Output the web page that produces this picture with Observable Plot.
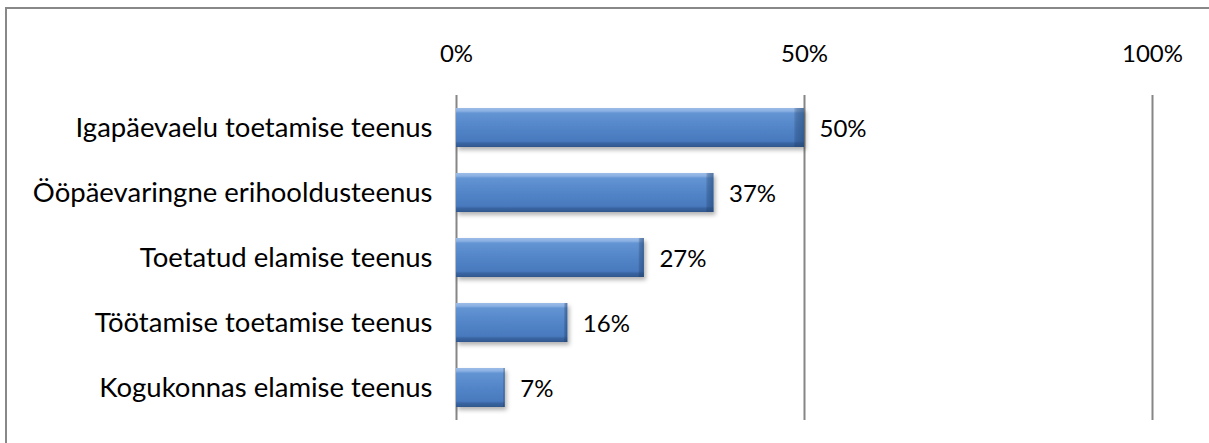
<!DOCTYPE html>
<html>
<head>
<meta charset="utf-8">
<script src="https://cdn.jsdelivr.net/npm/d3@7"></script>
<script src="https://cdn.jsdelivr.net/npm/@observablehq/plot@0.6"></script>
<style>
  html, body { margin: 0; padding: 0; background: #fff; }
  #wrap { position: relative; width: 1209px; height: 443px; overflow: hidden; }
  #frame { position: absolute; left: 5px; top: 7px; width: 1300px; height: 600px; border: 2.5px solid #888; box-sizing: border-box; }
  #chart { position: absolute; left: 0; top: 0; }
  #chart svg text { font-size: 24px; fill: #000; }
  #chart svg g.ycat text { font-size: 27.5px; }
</style>
</head>
<body>
<div id="wrap"><div id="frame"></div><div id="chart"></div></div>
<script>
const categories = [
  "Igapäevaelu toetamise teenus",
  "Ööpäevaringne erihooldusteenus",
  "Toetatud elamise teenus",
  "Töötamise toetamise teenus",
  "Kogukonnas elamise teenus"
];
const values = [50, 37, 27, 16, 7];
const tickValues = [0, 50, 100];

const data = categories.map((c, i) => ({category: c, value: values[i]}));
const font = "Lato, 'Open Sans', sans-serif";

const svg = Plot.plot({
  width: 1209,
  height: 443,
  marginTop: 95,
  marginBottom: 23,
  marginLeft: 456,
  marginRight: 57,
  style: {fontFamily: font, fontSize: "24px", color: "#000", background: "transparent"},
  x: {domain: [0, 100], ticks: tickValues, tickFormat: d => d + "%", label: null},
  y: {domain: categories, paddingInner: 0.4, paddingOuter: 0.2, label: null},
  marks: [
    Plot.ruleX(tickValues, {stroke: "#868686", strokeWidth: 2}),
    Plot.barX(data, {x: "value", y: "category", fill: "url(#barGrad)"}),
    Plot.barX(data, {x: "value", y: "category", fill: "url(#barEdge)"}),
    Plot.text(data, {x: "value", y: "category", text: d => d.value + "%", textAnchor: "start", dx: 15, dy: 1, fill: "#000"}),
    Plot.axisX({anchor: "top", ticks: tickValues, tickFormat: d => d + "%", tickSize: 0, tickPadding: 34, label: null}),
    Plot.axisY({tickSize: 0, tickPadding: 24, label: null})
  ]
});

const defs = d3.create("svg:defs");
const g = defs.append("linearGradient").attr("id", "barGrad").attr("x1", 0).attr("y1", 0).attr("x2", 0).attr("y2", 1);
[[0, "#9cbce8"], [0.08, "#8ab0e3"], [0.13, "#6394d3"], [0.5, "#5285c8"], [0.85, "#4979be"], [0.9, "#3a66a3"], [1, "#30578d"]]
  .forEach(([o, c]) => g.append("stop").attr("offset", o).attr("stop-color", c));
const e = defs.append("linearGradient").attr("id", "barEdge").attr("x1", 0).attr("y1", 0).attr("x2", 1).attr("y2", 0);
[[0, "#000", 0], [0.97, "#000", 0], [0.98, "#1f3f6a", 0.35], [1, "#1f3f6a", 0.55]]
  .forEach(([o, c, a]) => e.append("stop").attr("offset", o).attr("stop-color", c).attr("stop-opacity", a));
const f = defs.append("filter").attr("id", "shadow").attr("x", "-5%").attr("y", "-20%").attr("width", "115%").attr("height", "160%");
f.append("feDropShadow").attr("dx", 2).attr("dy", 3).attr("stdDeviation", 2).attr("flood-color", "#000").attr("flood-opacity", 0.3);
svg.insertBefore(defs.node(), svg.firstChild);

const barGroups = svg.querySelectorAll("g[aria-label='bar']");
if (barGroups.length) barGroups[0].setAttribute("filter", "url(#shadow)");
svg.querySelectorAll("g[aria-label='y-axis tick label']").forEach(n => n.classList.add("ycat"));
document.getElementById("chart").appendChild(svg);
</script>
</body>
</html>
